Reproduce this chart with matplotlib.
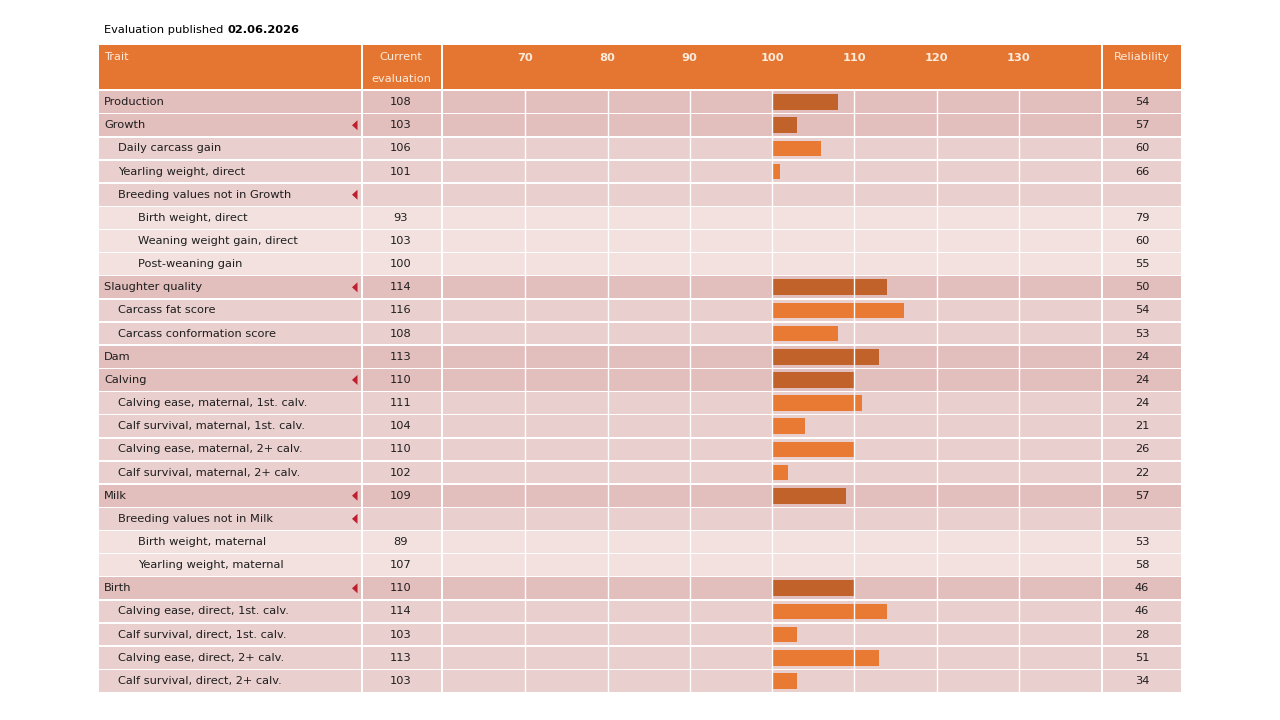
import matplotlib
matplotlib.use('Agg')
import matplotlib.pyplot as plt
from matplotlib.patches import Rectangle, Polygon

# table content
traits = ['Production', 'Growth', 'Daily carcass gain', 'Yearling weight, direct',
          'Breeding values not in Growth', 'Birth weight, direct', 'Weaning weight gain, direct',
          'Post-weaning gain', 'Slaughter quality', 'Carcass fat score',
          'Carcass conformation score', 'Dam', 'Calving', 'Calving ease, maternal, 1st. calv.',
          'Calf survival, maternal, 1st. calv.', 'Calving ease, maternal, 2+ calv.',
          'Calf survival, maternal, 2+ calv.', 'Milk', 'Breeding values not in Milk',
          'Birth weight, maternal', 'Yearling weight, maternal', 'Birth',
          'Calving ease, direct, 1st. calv.', 'Calf survival, direct, 1st. calv.',
          'Calving ease, direct, 2+ calv.', 'Calf survival, direct, 2+ calv.']
levels = [0, 0, 1, 1, 1, 2, 2, 2, 0, 1, 1, 0, 0, 1, 1, 1, 1, 0, 1, 2, 2, 0, 1, 1, 1, 1]
current = [108, 103, 106, 101, None, 93, 103, 100, 114, 116, 108, 113, 110, 111, 104, 110,
           102, 109, None, 89, 107, 110, 114, 103, 113, 103]
reliability = [54, 57, 60, 66, None, 79, 60, 55, 50, 54, 53, 24, 24, 24, 21, 26, 22, 57,
               None, 53, 58, 46, 46, 28, 51, 34]
expandable = ['Growth', 'Breeding values not in Growth', 'Slaughter quality', 'Calving',
              'Milk', 'Breeding values not in Milk', 'Birth']
scale_ticks = [70, 80, 90, 100, 110, 120, 130]
scale_range = (60, 140)
published = '02.06.2026'

ORANGE = '#E57631'
HEAD_TXT = '#FDEBDC'
ROW_COL = {0: '#E2BEBC', 1: '#E9CFCD', 2: '#F2E1DF'}
BAR_COL = {0: '#C0622A', 1: '#E87A33'}
TXT = '#1E1E1E'
FS = 8.2

plt.rcParams['font.family'] = ['DejaVu Sans']

fig = plt.figure(figsize=(12.8, 7.2), dpi=100)
ax = fig.add_axes([0, 0, 1, 1])
ax.set_xlim(0, 1280)
ax.set_ylim(720, 0)
ax.axis('off')

# column layout (pixels)
cols = [(99, 361), (363, 441), (443, 1101), (1103, 1181)]
head_top, head_bot = 45, 89
body_top, body_bot = 90.5, 692.5
n = len(traits)
rh = (body_bot - body_top) / n

t = ax.text(104, 30, 'Evaluation published ', fontsize=FS, color='black', va='center')
fig.canvas.draw()
bb = t.get_window_extent()
ax.text(104 + bb.width, 30, published, fontsize=FS, fontweight='bold', color='black', va='center')

# header
for x0, x1 in cols:
    ax.add_patch(Rectangle((x0, head_top), x1 - x0, head_bot - head_top, color=ORANGE, lw=0))
ax.text(104, 57, 'Trait', fontsize=FS, color=HEAD_TXT, va='center')
ax.text(401, 57, 'Current', fontsize=FS, color=HEAD_TXT, va='center', ha='center')
ax.text(401, 79, 'evaluation', fontsize=FS, color=HEAD_TXT, va='center', ha='center')
ax.text(1142, 57, 'Reliability', fontsize=FS, color=HEAD_TXT, va='center', ha='center')

# body rows
for i, name in enumerate(traits):
    top = body_top + i * rh
    yc = top + rh / 2
    lvl = levels[i]
    for x0, x1 in cols:
        ax.add_patch(Rectangle((x0, top + 0.75), x1 - x0, rh - 1.5, color=ROW_COL[lvl], lw=0))
    ax.text(104 + [0, 14, 34][lvl], yc, name, fontsize=FS, color=TXT, va='center')
    if current[i] is not None:
        ax.text(401, yc, str(current[i]), fontsize=FS, color=TXT, va='center', ha='center')
    if reliability[i] is not None:
        ax.text(1142, yc, str(reliability[i]), fontsize=FS, color=TXT, va='center', ha='center')
    if name in expandable:
        ax.add_patch(Polygon([(352, yc), (357.5, yc - 5), (357.5, yc + 5)],
                             closed=True, color='#BE1E2D', lw=0))

# bar chart part
axb = fig.add_axes([443 / 1280, 1 - body_bot / 720, (1101 - 443) / 1280,
                    (body_bot - body_top) / 720])
axb.set_facecolor('none')
axb.set_xlim(*scale_range)
axb.set_ylim(n - 0.5, -0.5)
for s in axb.spines.values():
    s.set_visible(False)
axb.set_yticks([])
axb.xaxis.tick_top()
axb.set_xticks(scale_ticks)
axb.set_xticklabels([str(v) for v in scale_ticks], fontsize=FS, fontweight='bold',
                    color=HEAD_TXT)
axb.tick_params(axis='x', length=0, pad=20)
axb.grid(axis='x', color='white', lw=1.0, zorder=5)
axb.set_axisbelow(False)

for i, v in enumerate(current):
    if v is None or levels[i] > 1 or v <= 100:
        continue
    axb.barh(i, v - 100, left=100, height=0.68, color=BAR_COL[levels[i]], zorder=2)

fig.savefig('out.png', dpi=100)
